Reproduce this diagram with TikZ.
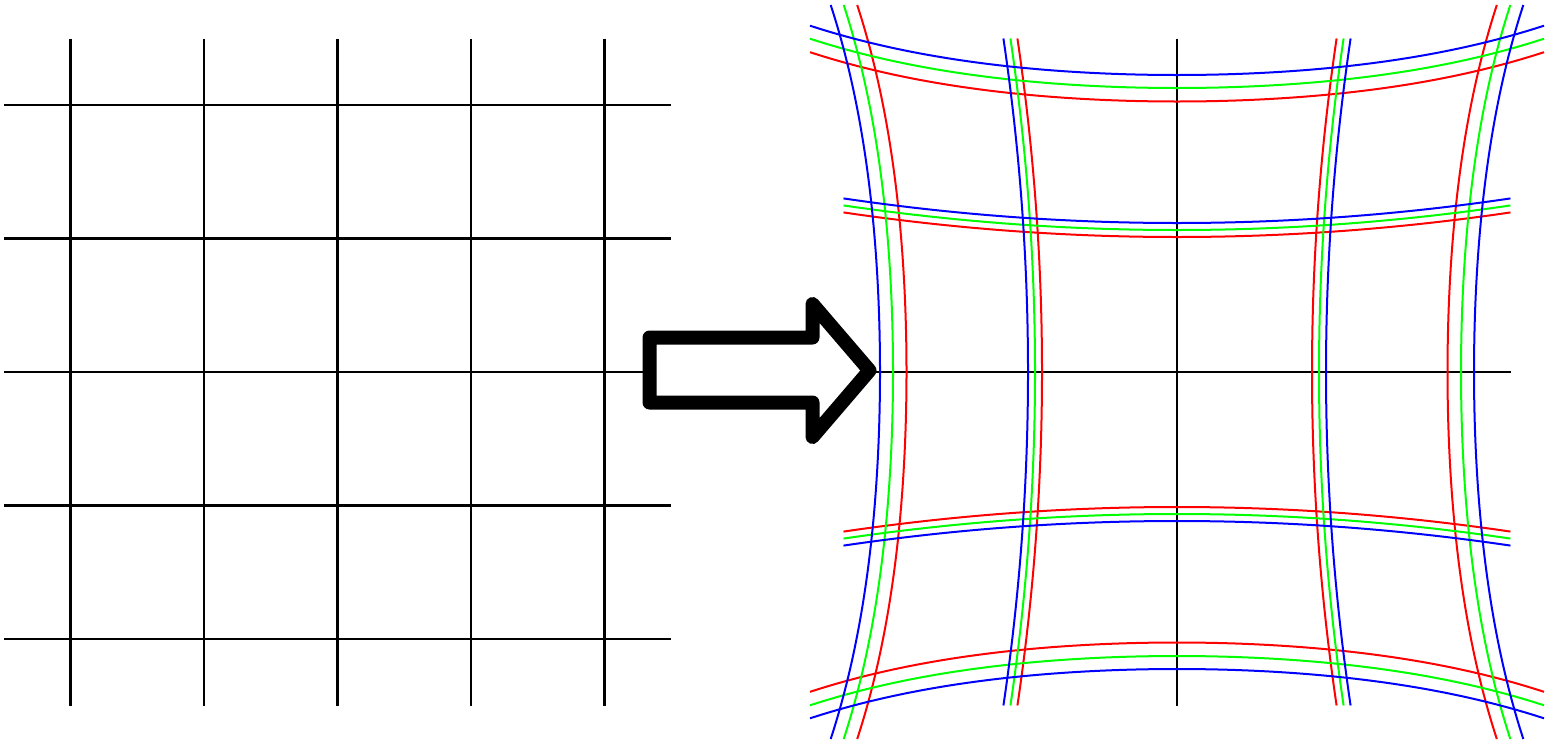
\documentclass[tikz,border=0pt]{standalone}
\usepackage{tikz}
\definecolor{cred}{RGB}{255,0,0}
\definecolor{cgreen}{RGB}{0,255,0}
\definecolor{cblue}{RGB}{0,0,255}
\tikzset{
  gridline/.style={black, line width=2.3pt},
  warpline/.style={line width=2pt, smooth, samples=61, variable=\u},
  bigarrow/.style={draw=black, fill=white, line width=14pt, line join=round}
}
\begin{document}
\begin{tikzpicture}[x=1pt,y=-1pt]
\useasboundingbox (0,0) rectangle (1546,742);
% left grid
\foreach \k in {-2,...,2}{
  \draw[gridline] ({337.5+133.5*\k},38.5) -- ({337.5+133.5*\k},705.5);
  \draw[gridline] (4,{372+133.5*\k}) -- (671,{372+133.5*\k});
}
% right grid: black axes
\draw[gridline] (1177,38.5) -- (1177,705.5);
\draw[gridline] (843.5,372) -- (1510.5,372);
% right grid: warped coloured lines
\foreach \col/\O/\I in {cred/270.5/135, cgreen/284/142, cblue/297/149}{
  % outer lines
  \draw[warpline, \col, domain=-3.67:3.67] plot ({1177-\O-2.887*\u*\u-0.0574*(\u*\u)*(\u*\u)}, {372+100*\u});
  \draw[warpline, \col, domain=-3.67:3.67] plot ({1177+\O+2.887*\u*\u+0.0574*(\u*\u)*(\u*\u)}, {372+100*\u});
  \draw[warpline, \col, domain=-3.67:3.67] plot ({1177+100*\u}, {372-\O-2.887*\u*\u-0.0574*(\u*\u)*(\u*\u)});
  \draw[warpline, \col, domain=-3.67:3.67] plot ({1177+100*\u}, {372+\O+2.887*\u*\u+0.0574*(\u*\u)*(\u*\u)});
  % inner lines
  \draw[warpline, \col, domain=-3.335:3.335] plot ({1177-\I-2.21*\u*\u}, {372+100*\u});
  \draw[warpline, \col, domain=-3.335:3.335] plot ({1177+\I+2.21*\u*\u}, {372+100*\u});
  \draw[warpline, \col, domain=-3.335:3.335] plot ({1177+100*\u}, {372-\I-2.21*\u*\u});
  \draw[warpline, \col, domain=-3.335:3.335] plot ({1177+100*\u}, {372+\I+2.21*\u*\u});
}
% big arrow
\draw[bigarrow] (649.5,337.5) -- (812.5,337.5) -- (812.5,304) -- (869.5,370.5)
  -- (812.5,437) -- (812.5,402.5) -- (649.5,402.5) -- cycle;
\end{tikzpicture}
\end{document}
